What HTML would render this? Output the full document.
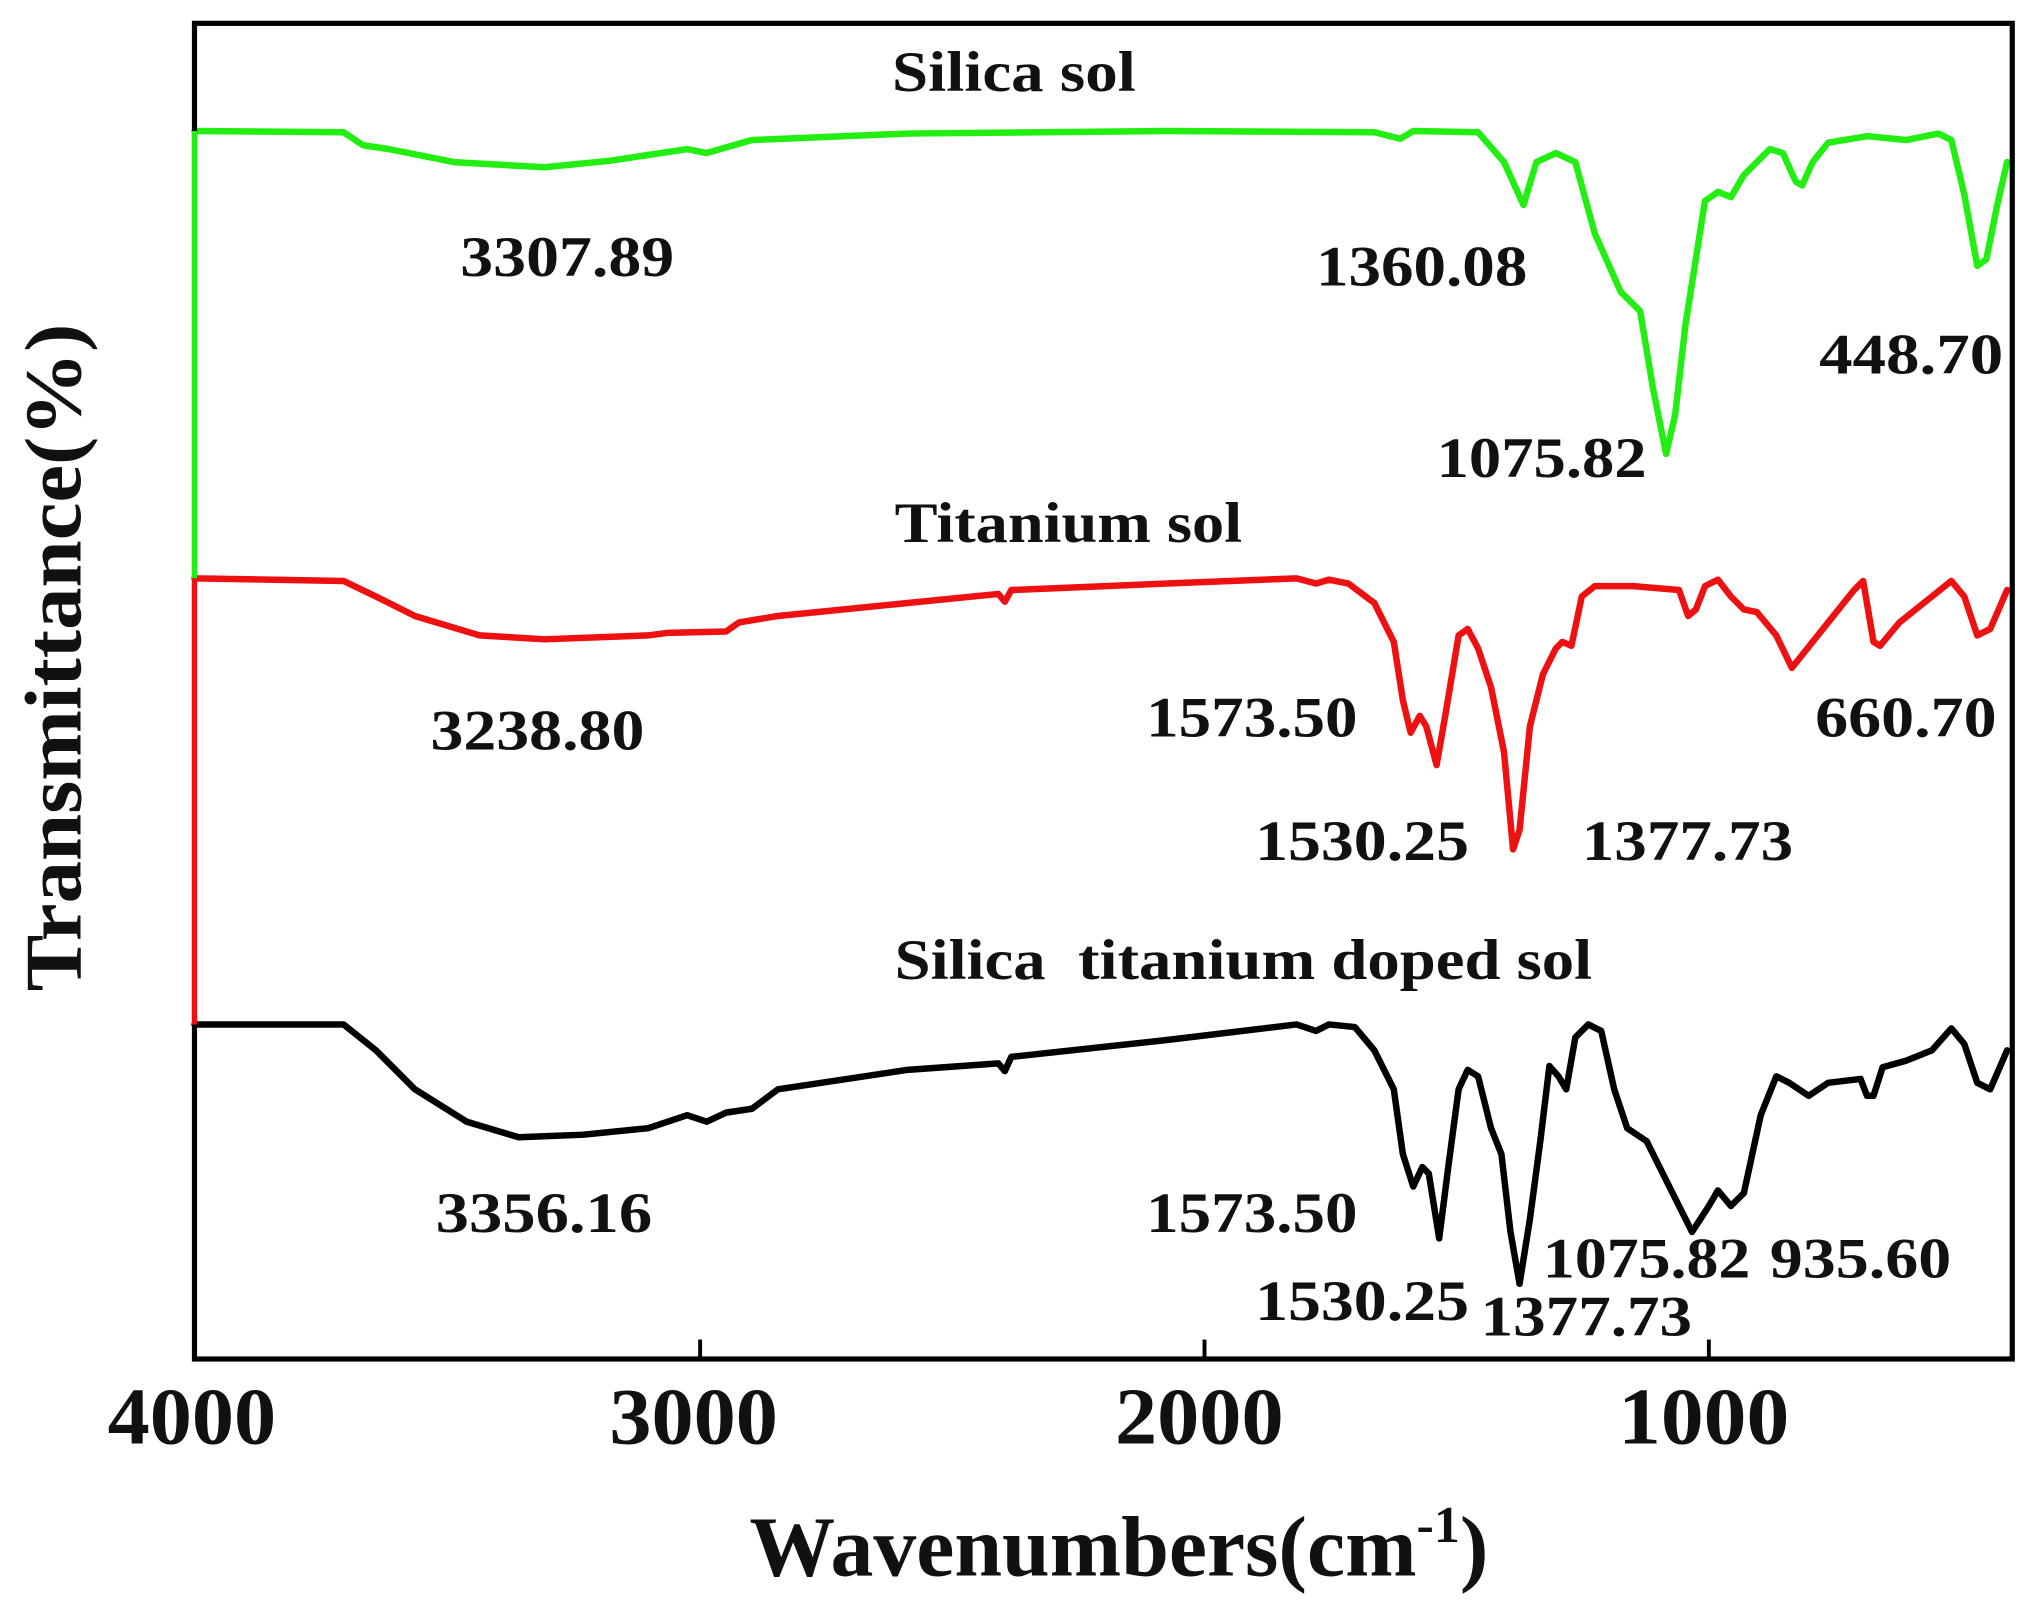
<!DOCTYPE html>
<html><head><meta charset="utf-8"><style>html,body{margin:0;padding:0;background:#fff}svg{display:block}text{font-family:"Liberation Serif","Times New Roman",serif;font-weight:bold}</style></head>
<body>
<svg width="2033" height="1608" viewBox="0 0 1568 1240" preserveAspectRatio="none" xmlns="http://www.w3.org/2000/svg">
<rect width="1568" height="1240" fill="#fff"/>
<g fill="none" stroke-linejoin="round" stroke-linecap="round" stroke-width="5">
<polyline stroke="#22ee11" points="150,101 265,102 280,112 300,115 350,125 420,129 470,124 530,115 545,118 580,108 700,103 900,101 1060,102 1080,107 1090,101 1140,102 1160,125 1175,158 1185,125 1200,118 1215,125 1230,180 1250,225 1265,240 1275,300 1285,350 1292,320 1300,250 1315,155 1325,148 1335,152 1345,135 1365,115 1375,118 1385,140 1390,143 1398,125 1410,110 1440,105 1470,108 1495,103 1505,108 1515,150 1525,205 1532,200 1540,160 1548,125"/>
<polyline stroke="#ee1111" points="150,446 265,448 290,460 320,475 370,490 420,493 500,490 515,488 560,487 570,480 600,475 700,465 770,458 775,464 780,455 900,450 1000,446 1015,450 1025,447 1040,450 1060,465 1075,495 1082,540 1088,565 1095,552 1100,560 1108,590 1115,550 1125,490 1132,485 1140,500 1150,530 1160,580 1167,655 1172,640 1180,560 1190,520 1200,500 1205,495 1212,498 1220,460 1230,452 1260,452 1295,455 1302,475 1308,470 1315,452 1325,447 1335,460 1345,470 1355,472 1370,490 1382,515 1390,505 1410,480 1430,455 1437,448 1445,495 1450,498 1465,480 1490,460 1505,448 1515,460 1525,490 1535,485 1548,455"/>
<polyline stroke="#000" points="150,790 265,790 290,810 320,840 360,865 400,877 450,875 500,870 530,860 545,865 560,858 580,855 600,840 700,825 770,820 775,826 780,815 900,802 1000,790 1015,795 1025,790 1045,792 1060,810 1075,840 1082,890 1090,915 1097,900 1102,905 1110,955 1117,900 1125,840 1132,825 1140,830 1150,870 1158,890 1165,950 1172,990 1180,940 1188,880 1195,822 1202,830 1208,840 1215,800 1225,790 1235,795 1245,840 1255,870 1270,880 1290,920 1305,950 1318,930 1325,918 1335,930 1345,920 1358,860 1370,830 1380,835 1395,845 1410,835 1435,832 1440,845 1445,845 1452,823 1470,818 1490,810 1505,793 1515,805 1525,835 1535,840 1548,810"/>
</g>
<rect x="150" y="18" width="1402" height="1030" fill="none" stroke="#000" stroke-width="4"/>
<line x1="150" y1="101" x2="150" y2="446" stroke="#22ee11" stroke-width="4"/>
<line x1="150" y1="446" x2="150" y2="790" stroke="#ee1111" stroke-width="4"/>
<g stroke="#000" stroke-width="3"><line x1="540" y1="1048" x2="540" y2="1033"/><line x1="929" y1="1048" x2="929" y2="1033"/><line x1="1318" y1="1048" x2="1318" y2="1033"/></g>
<g font-size="44" fill="#111">
<text x="688" y="70" textLength="188" lengthAdjust="spacingAndGlyphs">Silica sol</text>
<text x="355" y="213" textLength="165" lengthAdjust="spacingAndGlyphs">3307.89</text>
<text x="1015" y="220" textLength="163" lengthAdjust="spacingAndGlyphs">1360.08</text>
<text x="1403" y="288" textLength="142" lengthAdjust="spacingAndGlyphs">448.70</text>
<text x="1108" y="368" textLength="162" lengthAdjust="spacingAndGlyphs">1075.82</text>
<text x="690" y="418" textLength="268" lengthAdjust="spacingAndGlyphs">Titanium sol</text>
<text x="332" y="578" textLength="165" lengthAdjust="spacingAndGlyphs">3238.80</text>
<text x="884" y="568" textLength="163" lengthAdjust="spacingAndGlyphs">1573.50</text>
<text x="1400" y="568" textLength="140" lengthAdjust="spacingAndGlyphs">660.70</text>
<text x="968" y="663" textLength="165" lengthAdjust="spacingAndGlyphs">1530.25</text>
<text x="1220" y="663" textLength="163" lengthAdjust="spacingAndGlyphs">1377.73</text>
<text x="690" y="755" textLength="538" lengthAdjust="spacingAndGlyphs" xml:space="preserve">Silica  titanium doped sol</text>
<text x="336" y="950" textLength="167" lengthAdjust="spacingAndGlyphs">3356.16</text>
<text x="884" y="950" textLength="163" lengthAdjust="spacingAndGlyphs">1573.50</text>
<text x="1190" y="985" textLength="160" lengthAdjust="spacingAndGlyphs">1075.82</text>
<text x="1365" y="985" textLength="140" lengthAdjust="spacingAndGlyphs">935.60</text>
<text x="968" y="1018" textLength="165" lengthAdjust="spacingAndGlyphs">1530.25</text>
<text x="1142" y="1030" textLength="163" lengthAdjust="spacingAndGlyphs">1377.73</text>
</g>
<g font-size="62" fill="#111">
<text x="83" y="1113" textLength="130" lengthAdjust="spacingAndGlyphs">4000</text>
<text x="470" y="1113" textLength="130" lengthAdjust="spacingAndGlyphs">3000</text>
<text x="860" y="1113" textLength="130" lengthAdjust="spacingAndGlyphs">2000</text>
<text x="1248" y="1113" textLength="132" lengthAdjust="spacingAndGlyphs">1000</text>
</g>
<text x="578" y="1215" font-size="66" fill="#111" textLength="570" lengthAdjust="spacingAndGlyphs">Wavenumbers(cm<tspan font-size="40" dy="-26">-1</tspan><tspan dy="26">)</tspan></text>
<text transform="translate(62,507) rotate(-90)" text-anchor="middle" font-size="62" fill="#111" textLength="515" lengthAdjust="spacingAndGlyphs">Transmittance(%)</text>
</svg>
</body></html>
